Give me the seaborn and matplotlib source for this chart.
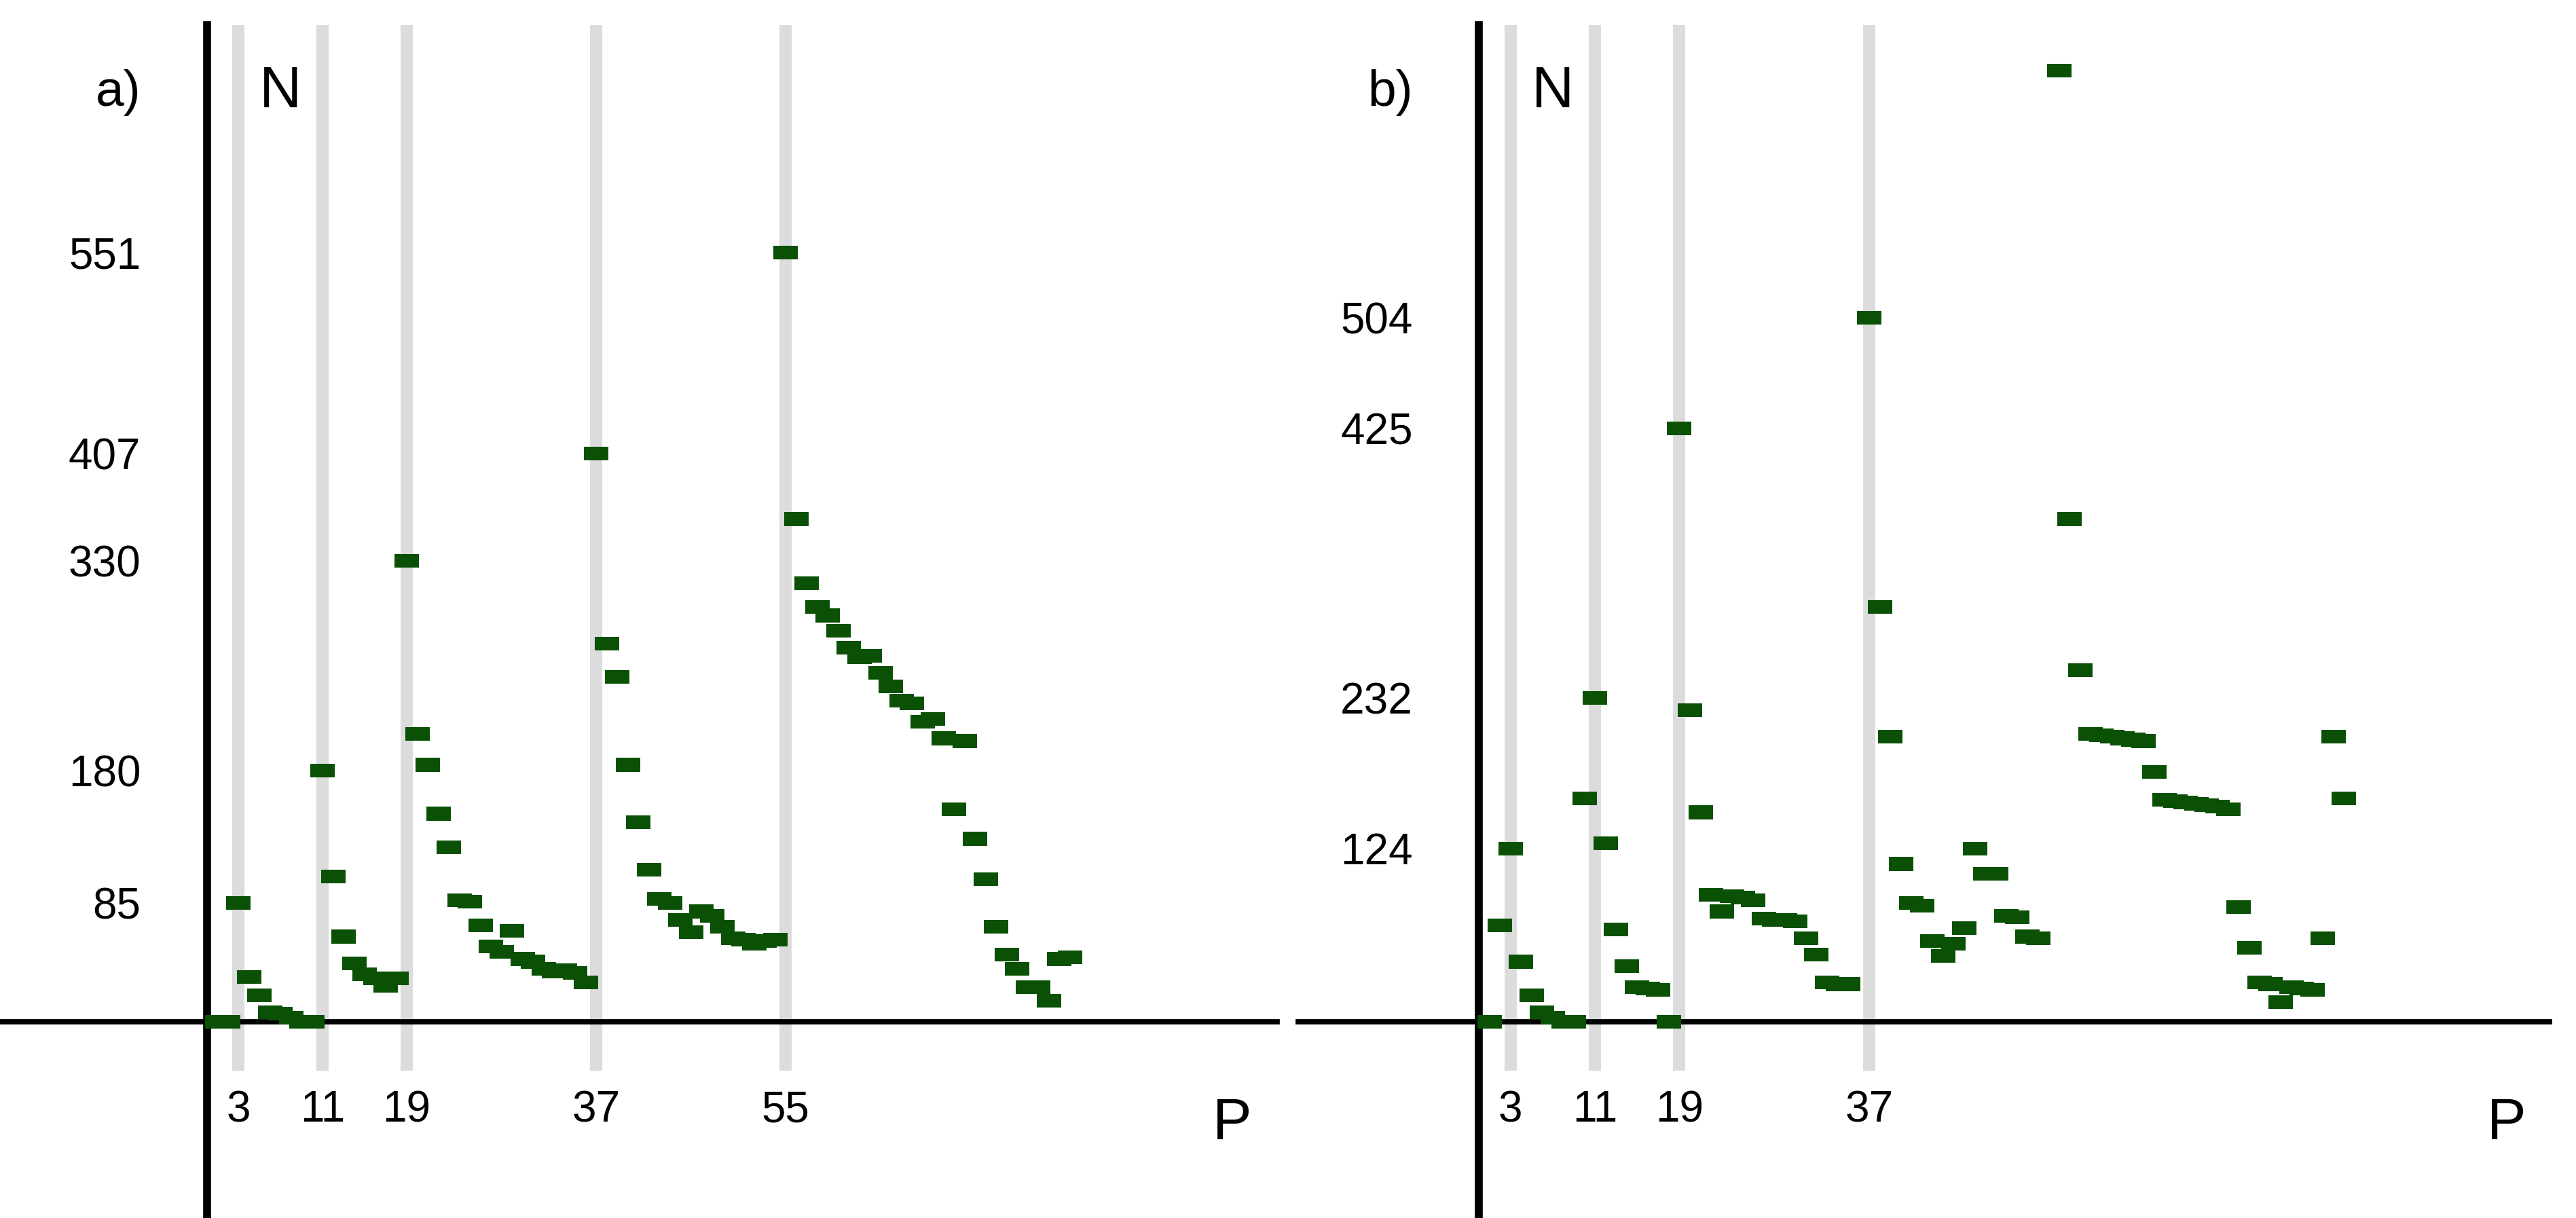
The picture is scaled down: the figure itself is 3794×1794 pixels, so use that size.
import numpy as np
import pandas as pd
import matplotlib
matplotlib.use("Agg")
import matplotlib.pyplot as plt
from matplotlib.path import Path
import seaborn as sns

# values, P = 1..82
p_values = list(range(1, 83))

n_a = [0, 0, 85, 32, 19, 7, 6, 3, 0, 0,
       180, 104, 61, 42, 34, 31, 26, 31, 330, 206,
       184, 149, 125, 87, 86, 69, 54, 50, 65, 45,
       43, 38, 36, 37, 35, 28, 407, 271, 247, 184,
       143, 109, 88, 85, 73, 64, 79, 76, 68, 60,
       59, 56, 58, 59, 551, 360, 314, 297, 291, 280,
       268, 261, 262, 250, 240, 230, 228, 215, 217, 203,
       152, 201, 131, 102, 68, 48, 38, 25, 25, 15,
       45, 46]

n_b = [0, 69, 124, 43, 19, 7, 3, 0, 0, 160,
       232, 128, 66, 40, 25, 24, 23, 0, 425, 223,
       150, 91, 79, 90, 89, 87, 74, 73, 73, 72,
       60, 48, 28, 27, 27, np.nan, 504, 297, 204, 113,
       85, 83, 58, 47, 56, 67, 124, 106, 106, 76,
       75, 61, 60, np.nan, 681, 360, 252, 206, 205, 204,
       203, 202, 201, 179, 159, 158, 157, 156, 155, 154,
       152, 82, 53, 28, 27, 14, 25, 24, 23, 60,
       204, 160]

xticks_a = [3, 11, 19, 37, 55]
yticks_a = [85, 180, 330, 407, 551]
xticks_b = [3, 11, 19, 37]
yticks_b = [124, 232, 425, 504]

# Style
sns.set_style("white")
plt.rcParams["font.family"] = ["Liberation Sans", "DejaVu Sans"]

green = "#0a5105"
rect = Path([(-0.5, -0.28), (0.5, -0.28), (0.5, 0.28), (-0.5, 0.28), (-0.5, -0.28)],
            closed=True)

W, H = 3794, 1794
fig = plt.figure(figsize=(W / 200, H / 200), dpi=200)
ax_a = fig.add_axes([0, 0, 1881 / W, (H - 37) / H])
ax_b = fig.add_axes([1912 / W, 0, (3755 - 1912) / W, (H - 37) / H])

ylim = (-140.5, 713.7)


def draw_panel(ax, n_values, xticks, yticks, tag, xlim):
    df = pd.DataFrame({"P": p_values, "N": n_values})

    # grey guide lines at the marked P values
    ax.vlines(xticks, -35, ylim[1], colors="#dcdcdc", linewidth=6.5, zorder=1)

    sns.scatterplot(data=df, x="P", y="N", marker=rect, s=168, color=green,
                    linewidth=0, edgecolor="none", ax=ax, zorder=3)

    ax.set_xlim(*xlim)
    ax.set_ylim(*ylim)
    ax.set_xlabel("")
    ax.set_ylabel("")

    ax.spines["top"].set_visible(False)
    ax.spines["right"].set_visible(False)
    ax.spines["left"].set_position(("data", 0))
    ax.spines["bottom"].set_position(("data", 0))
    ax.spines["left"].set_linewidth(4.2)
    ax.spines["bottom"].set_linewidth(2.8)
    ax.spines["left"].set_color("black")
    ax.spines["bottom"].set_color("black")

    ax.set_xticks(xticks)
    ax.set_yticks(yticks)
    ax.tick_params(axis="x", length=0, pad=36, labelsize=23, labelcolor="black")
    ax.tick_params(axis="y", length=0, pad=35, labelsize=23, labelcolor="black")

    ax.text(-8.4, 656, tag, fontsize=27, ha="center", va="baseline", color="black")
    ax.text(7.0, 655, "N", fontsize=31, ha="center", va="baseline", color="black")
    ax.text(97.4, -84, "P", fontsize=31, ha="center", va="baseline", color="black")


draw_panel(ax_a, n_a, xticks_a, yticks_a, "a)", (-19.65, 101.71))
draw_panel(ax_b, n_b, xticks_b, yticks_b, "b)", (-17.13, 101.47))

fig.savefig("out.png", dpi=200, facecolor="white")
